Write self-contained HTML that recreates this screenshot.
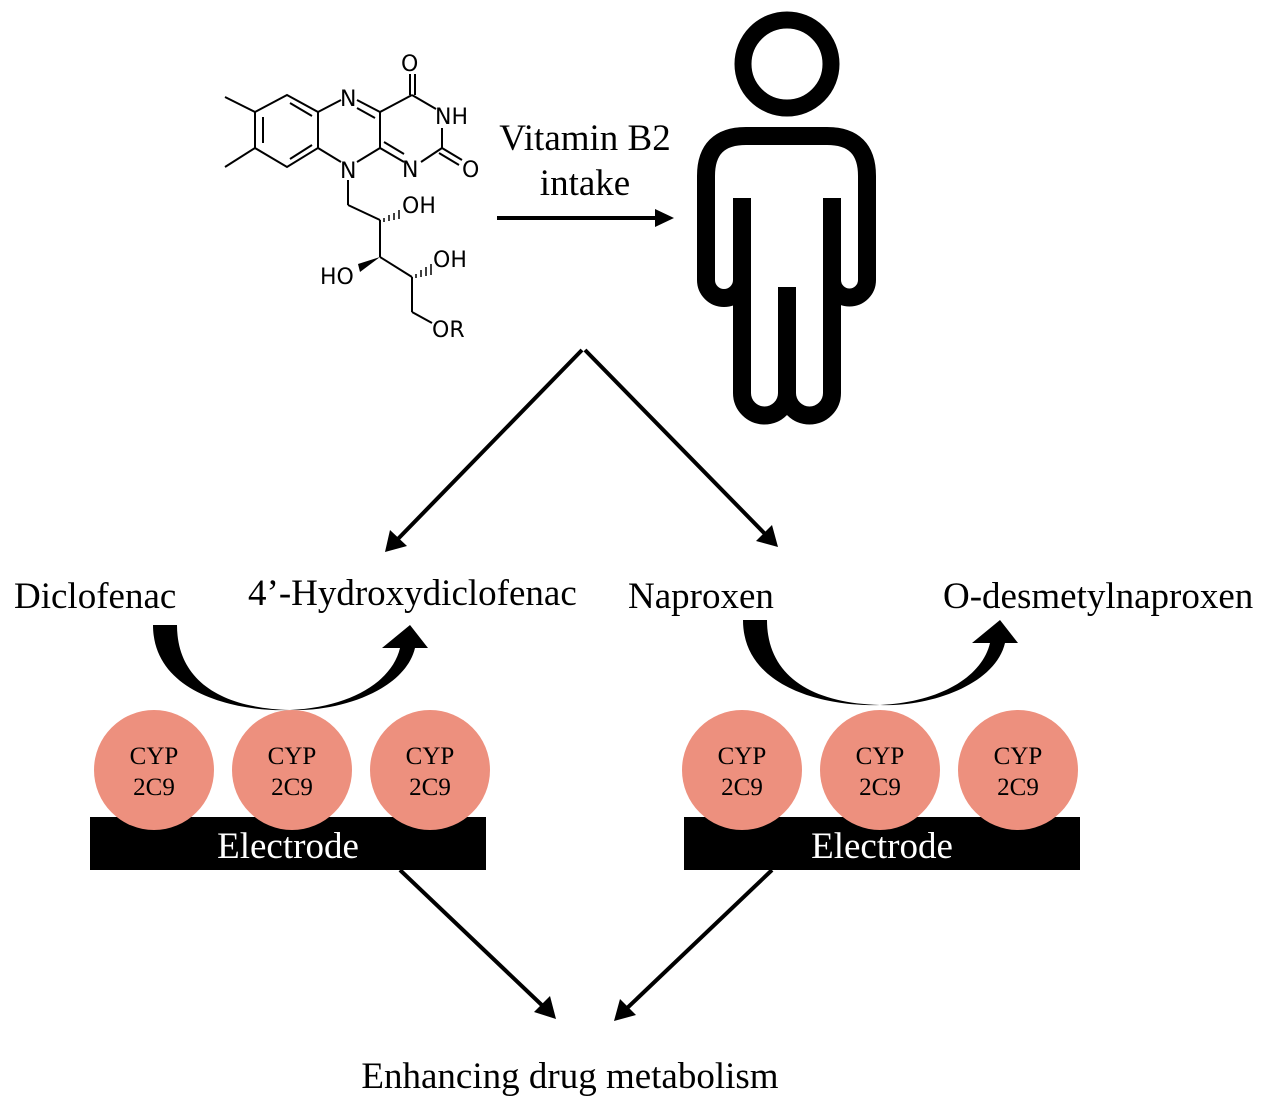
<!DOCTYPE html>
<html><head><meta charset="utf-8"><style>
body{margin:0;background:#fff;}
svg{display:block}
.s{font-family:"Liberation Serif",serif;font-size:37px;fill:#000}
.m{font-family:"DejaVu Sans","Liberation Sans",sans-serif;font-size:22px;fill:#000}
.c{font-family:"Liberation Serif",serif;font-size:25px;fill:#000;text-anchor:middle}
</style></head><body>
<svg width="1268" height="1120" viewBox="0 0 1268 1120" xmlns="http://www.w3.org/2000/svg">
<!-- molecule -->
<g stroke="#000" stroke-width="2" fill="none">
<line x1="225" y1="97" x2="255" y2="112"/>
<line x1="225" y1="167" x2="255" y2="148"/>
<polygon points="255,112 287,95 318,112 318,148 287,167 255,148"/>
<line x1="263" y1="117" x2="263" y2="143"/>
<line x1="290" y1="103" x2="312" y2="116"/>
<line x1="290" y1="159" x2="312" y2="145"/>
<line x1="318" y1="112" x2="341" y2="100"/>
<line x1="357" y1="100" x2="380" y2="112"/>
<line x1="357" y1="108" x2="375" y2="118"/>
<line x1="380" y1="112" x2="380" y2="148"/>
<line x1="380" y1="148" x2="357" y2="162"/>
<line x1="318" y1="148" x2="341" y2="162"/>
<line x1="380" y1="112" x2="412" y2="95"/>
<line x1="410" y1="95" x2="410" y2="74"/>
<line x1="415" y1="95" x2="415" y2="74"/>
<line x1="412" y1="95" x2="436" y2="109"/>
<line x1="442" y1="128" x2="442" y2="148"/>
<line x1="442" y1="148" x2="462" y2="160"/>
<line x1="439" y1="153" x2="459" y2="165"/>
<line x1="442" y1="148" x2="421" y2="162"/>
<line x1="380" y1="148" x2="404" y2="162"/>
<line x1="384" y1="142" x2="404" y2="154"/>
<line x1="348" y1="180" x2="348" y2="205"/>
<line x1="348" y1="205" x2="380" y2="220"/>
<line x1="380" y1="220" x2="380" y2="257"/>
<line x1="380" y1="257" x2="412" y2="277"/>
<line x1="412" y1="277" x2="412" y2="312"/>
<line x1="412" y1="312" x2="432" y2="323"/>
</g>
<g stroke="#000" stroke-width="1.5">
<line x1="384" y1="218" x2="384" y2="222"/><line x1="389" y1="215" x2="389" y2="221"/><line x1="394" y1="213" x2="394" y2="220"/><line x1="399" y1="210" x2="399" y2="219"/>
<line x1="416" y1="274" x2="416" y2="278"/><line x1="421" y1="270" x2="421" y2="277"/><line x1="426" y1="267" x2="426" y2="276"/><line x1="431" y1="264" x2="431" y2="275"/>
</g>
<polygon points="380,257 358,264 360,272" fill="#000"/>
<text class="m" x="401" y="71">O</text>
<text class="m" x="435" y="124">NH</text>
<text class="m" x="462" y="177">O</text>
<text class="m" x="340" y="106">N</text>
<text class="m" x="402" y="177">N</text>
<text class="m" x="340" y="178">N</text>
<text class="m" x="402" y="213">OH</text>
<text class="m" x="320" y="284">HO</text>
<text class="m" x="433" y="267">OH</text>
<text class="m" x="432" y="337">OR</text>
<!-- vitamin text + arrow -->
<text class="s" x="585" y="150" text-anchor="middle">Vitamin B2</text>
<text class="s" x="585" y="195" text-anchor="middle">intake</text>
<line x1="497" y1="218" x2="660" y2="218" stroke="#000" stroke-width="4"/>
<polygon points="674,218 655,209 655,227" fill="#000"/>
<!-- person -->
<circle cx="787" cy="64" r="44" fill="none" stroke="#000" stroke-width="17"/>
<g fill="none" stroke="#000" stroke-width="18">
<path d="M742,280 A18,18 0 0 1 706,280 L706,176 Q706,136 746,136 L827,136 Q867,136 867,176 L867,280 A17.5,17.5 0 0 1 832,280"/>
<path d="M742,198 L742,393 A22.5,22.5 0 0 0 787,393 L787,287 M787,393 A22.5,22.5 0 0 0 832,393 L832,198"/>
</g>
<!-- V arrows -->
<g stroke="#000" stroke-width="4" fill="none">
<line x1="582" y1="350" x2="394" y2="543"/>
<line x1="585" y1="350" x2="769" y2="538"/>
<line x1="400" y1="870" x2="547" y2="1010"/>
<line x1="772" y1="870" x2="623" y2="1012"/>
</g>
<polygon points="385,552 390,530 407,546" fill="#000"/>
<polygon points="778,547 756,541 772,525" fill="#000"/>
<polygon points="556,1019 534,1012 550,996" fill="#000"/>
<polygon points="614,1021 620,999 636,1015" fill="#000"/>
<!-- labels -->
<text class="s" x="14" y="608">Diclofenac</text>
<text class="s" x="248" y="605">4’-Hydroxydiclofenac</text>
<text class="s" x="628" y="608">Naproxen</text>
<text class="s" x="943" y="608">O-desmetylnaproxen</text>
<!-- curved arrows -->
<path d="M153,625 C153,695 240,712 290,710 C350,707 392,682 400,648 L382,648 L410,625 L428,648 L415,648 C405,690 340,712 290,710 C220,708 177,680 177,625 Z" fill="#000"/>
<path transform="translate(590,-5)" d="M153,625 C153,695 240,712 290,710 C350,707 392,682 400,648 L382,648 L410,625 L428,648 L415,648 C405,690 340,712 290,710 C220,708 177,680 177,625 Z" fill="#000"/>
<!-- electrodes -->
<rect x="90" y="817" width="396" height="53" fill="#000"/>
<rect x="684" y="817" width="396" height="53" fill="#000"/>
<g fill="#ED907E">
<circle cx="154" cy="770" r="60"/><circle cx="292" cy="770" r="60"/><circle cx="430" cy="770" r="60"/>
<circle cx="742" cy="770" r="60"/><circle cx="880" cy="770" r="60"/><circle cx="1018" cy="770" r="60"/>
</g>
<g class="c">
<text x="154" y="764">CYP</text><text x="154" y="795">2C9</text>
<text x="292" y="764">CYP</text><text x="292" y="795">2C9</text>
<text x="430" y="764">CYP</text><text x="430" y="795">2C9</text>
<text x="742" y="764">CYP</text><text x="742" y="795">2C9</text>
<text x="880" y="764">CYP</text><text x="880" y="795">2C9</text>
<text x="1018" y="764">CYP</text><text x="1018" y="795">2C9</text>
</g>
<text class="s" x="288" y="858" text-anchor="middle" style="fill:#fff">Electrode</text>
<text class="s" x="882" y="858" text-anchor="middle" style="fill:#fff">Electrode</text>
<text class="s" x="570" y="1088" text-anchor="middle">Enhancing drug metabolism</text>
</svg>
</body></html>
